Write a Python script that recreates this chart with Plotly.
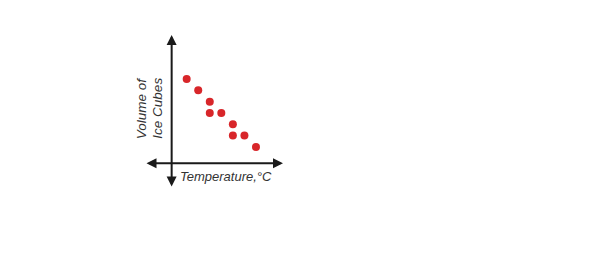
import plotly.graph_objects as go

# Data (temperature index vs volume index)
temperature = [1, 2, 3, 3, 4, 5, 5, 6, 7]
volume = [7, 6, 5, 4, 4, 3, 2, 2, 1]
x_label = "Temperature,°C"
y_label_lines = ["Volume of", "Ice Cubes"]

fig = go.Figure()
fig.add_trace(go.Scatter(
    x=temperature, y=volume, mode="markers",
    marker=dict(size=8, color="#d8262a", line=dict(width=0)),
    hoverinfo="skip",
))

axis_color = "#1a1a1a"
x0, y0 = -0.30, -0.44
# horizontal axis double arrow
fig.add_annotation(x=9.34, y=y0, ax=-2.61, ay=y0, xref="x", yref="y", axref="x", ayref="y",
                   text="", showarrow=True, arrowhead=2, startarrowhead=2, arrowside="end+start",
                   arrowwidth=2, arrowsize=1, startarrowsize=1, arrowcolor=axis_color)
# vertical axis double arrow
fig.add_annotation(x=x0, y=10.88, ax=x0, ay=-2.62, xref="x", yref="y", axref="x", ayref="y",
                   text="", showarrow=True, arrowhead=2, startarrowhead=2, arrowside="end+start",
                   arrowwidth=2, arrowsize=1, startarrowsize=1, arrowcolor=axis_color)

font = dict(family="Liberation Sans, Arial", size=13.5, color="#333333", style="italic")
fig.add_annotation(x=0.25, y=-1.6, xref="x", yref="y", text=x_label, showarrow=False,
                   xanchor="left", yanchor="middle", font=dict(font, size=13))
fig.add_annotation(x=-2.92, y=4.45, xref="x", yref="y", text=y_label_lines[0], showarrow=False,
                   textangle=-90, xanchor="center", yanchor="middle", font=font)
fig.add_annotation(x=-1.5, y=4.45, xref="x", yref="y", text=y_label_lines[1], showarrow=False,
                   textangle=-90, xanchor="center", yanchor="middle", font=font)

fig.update_layout(
    width=595, height=270, margin=dict(l=0, r=0, t=0, b=0),
    paper_bgcolor="white", plot_bgcolor="white", showlegend=False,
    xaxis=dict(range=[-15.16, 36.35], visible=False, fixedrange=True),
    yaxis=dict(range=[-9.86, 13.97], visible=False, fixedrange=True),
)
fig.write_html("out.html")
